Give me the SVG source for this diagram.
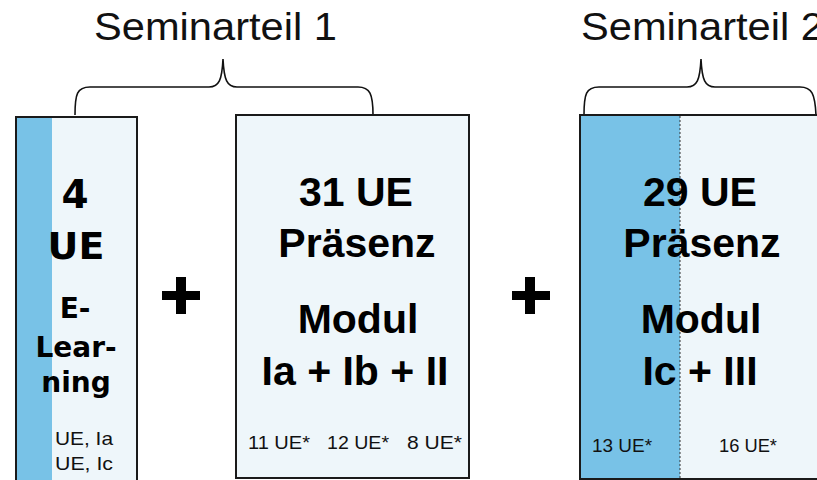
<svg xmlns="http://www.w3.org/2000/svg" width="817" height="480" viewBox="0 0 817 480">
<style>
.box{stroke:#1a1a1a;stroke-width:2;}
.light{fill:#eef6fa;}
.blue{fill:#78c2e7;}
.brace{fill:none;stroke:#111;stroke-width:1.6;}
.title{font-family:"Liberation Sans",Arial,sans-serif;font-size:38px;fill:#111;}
.big{font-family:"Liberation Sans",Arial,sans-serif;font-weight:bold;font-size:41px;fill:#000;text-anchor:middle;}
.dv{font-family:"DejaVu Sans",sans-serif;font-weight:bold;fill:#000;text-anchor:middle;}
.small{font-family:"Liberation Sans",Arial,sans-serif;font-size:19px;fill:#111;}
.plus{fill:#000;}
</style>
<rect width="817" height="480" fill="#ffffff"/>
<g id="labels">
<text class="title" x="94" y="40" textLength="243" lengthAdjust="spacingAndGlyphs">Seminarteil 1</text>
<text class="title" x="581" y="40" textLength="243" lengthAdjust="spacingAndGlyphs">Seminarteil 2</text>
</g>
<g id="connectors">
<path class="brace" d="M75,115 C75,94 77,87 90,87 L209,87 C219,87 222,80 223,59 C224,80 227,87 237,87 L358,87 C370,87 373,94 373,115"/>
<path class="brace" d="M584,115 C584,94 586,87 599,87 L687,87 C697,87 700,80 701,59 C702,80 705,87 715,87 L800,87 C812,87 815,94 816,115"/>
</g>
<g id="node-elearning">
<rect class="box light" x="16" y="117" width="121" height="373"/>
<rect class="blue" x="17" y="118" width="35" height="370"/>
<text class="dv" x="75" y="208" font-size="39">4</text>
<text class="dv" x="76" y="259" font-size="38">UE</text>
<text class="dv" x="75" y="318" font-size="28">E-</text>
<text class="dv" x="76" y="357" font-size="28">Lear-</text>
<text class="dv" x="76" y="392" font-size="28">ning</text>
<text class="small" x="55" y="445" textLength="58" lengthAdjust="spacingAndGlyphs">UE, Ia</text>
<text class="small" x="55" y="470" textLength="58" lengthAdjust="spacingAndGlyphs">UE, Ic</text>
</g>
<g id="plus-1">
<rect class="plus" x="162" y="291" width="38" height="9"/>
<rect class="plus" x="176" y="277" width="10" height="37"/>
</g>
<g id="node-teil1">
<rect class="box light" x="236" y="115" width="233" height="363"/>
<text class="big" x="356" y="206">31 UE</text>
<text class="big" x="357" y="257">Präsenz</text>
<text class="big" x="358" y="333">Modul</text>
<text class="big" x="355" y="385">Ia + Ib + II</text>
<text class="small" x="248" y="449" textLength="62" lengthAdjust="spacingAndGlyphs">11 UE*</text>
<text class="small" x="327" y="449" textLength="62" lengthAdjust="spacingAndGlyphs">12 UE*</text>
<text class="small" x="407" y="449" textLength="55" lengthAdjust="spacingAndGlyphs">8 UE*</text>
</g>
<g id="plus-2">
<rect class="plus" x="512" y="291" width="38" height="9"/>
<rect class="plus" x="525" y="277" width="10" height="37"/>
</g>
<g id="node-teil2">
<rect class="box light" x="580" y="115" width="250" height="364"/>
<rect class="blue" x="581" y="116" width="99" height="362"/>
<line x1="680" y1="116" x2="680" y2="478" stroke="#333" stroke-width="1" stroke-dasharray="2,2"/>
<text class="big" x="700" y="206">29 UE</text>
<text class="big" x="702" y="257">Präsenz</text>
<text class="big" x="701" y="333">Modul</text>
<text class="big" x="700" y="385">Ic + III</text>
<text class="small" x="592" y="452" textLength="60" lengthAdjust="spacingAndGlyphs">13 UE*</text>
<text class="small" x="719" y="452" textLength="58" lengthAdjust="spacingAndGlyphs">16 UE*</text>
</g>
</svg>
